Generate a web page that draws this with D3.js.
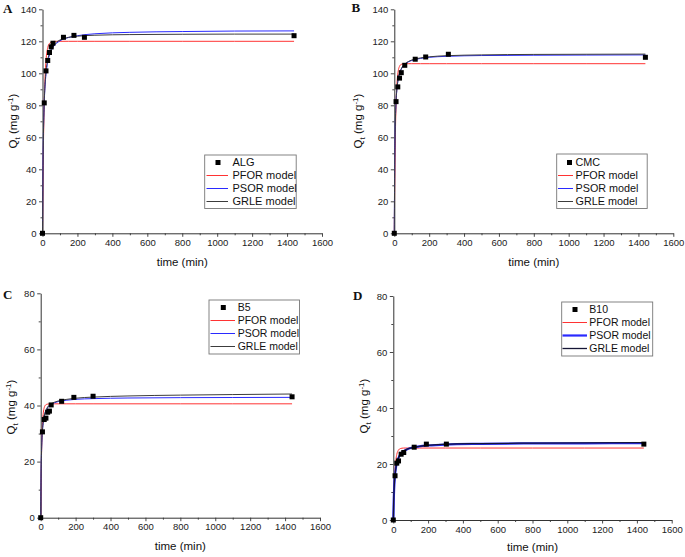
<!DOCTYPE html>
<html><head><meta charset="utf-8">
<script src="https://cdn.jsdelivr.net/npm/d3@7/dist/d3.min.js"></script>
<style>
body{margin:0;background:#fff} svg{display:block}
svg text{font-family:"Liberation Sans", Arial, Helvetica, sans-serif;}
svg text.letter{font-family:"Liberation Serif", "Times New Roman", serif;font-weight:bold;}
</style>
</head><body><svg id="c" width="685" height="557"></svg>
<script>
// ---------- data ----------
const xTicks = [0,200,400,600,800,1000,1200,1400,1600];
const yTicksAB = [0,20,40,60,80,100,120,140];
const yTicksCD = [0,20,40,60,80];
const seriesNames = ["PFOR model","PSOR model","GRLE model"];
const sampleNames = ["ALG","CMC","B5","B10"];
const panelLetters = ["A","B","C","D"];

// experimental points
const timeA = [0,10,20,30,40,50,60,120,180,240,1440];
const qtA   = [0,81.5,101.5,108,113,116.5,118.8,122.5,123.7,122.5,123.5];
const timeB = [0,10,20,30,40,60,120,180,310,1440];
const qtB   = [0,82.3,91.5,97,100.4,105,108.8,110.2,111.9,110];
const timeC = [0,10,20,30,40,50,60,120,190,300,1440];
const qtC   = [0,30.6,35,35.5,37.6,38,40.2,41.5,42.9,43.3,43.1];
const timeD = [0,10,20,30,45,60,120,190,305,1440];
const qtD   = [0,15.8,20.3,21.1,23.5,24.1,26,27.1,27.1,27.1];

// model curves (at these times)
const modelT = [0,2,5,10,15,20,30,40,60,80,100,150,200,300,500,800,1100,1440];
const pforA = [0,24.5,52,81.6,98.3,107.8,116,118.7,119.9,120,120,120,120,120,120,120,120,120];
const psorA = [0,33.5,60,81.5,92.6,99.3,107,111.4,116.2,118.7,120.3,122.4,123.5,124.7,125.6,126.1,126.4,126.5];
const grleA = [0,30,58,82,94,101,108.5,112.5,117,119.5,120.8,122.5,123.2,123.8,124.2,124.4,124.5,124.5];
const pforB = [0,25.9,53.4,79.9,93,99.5,104.4,105.6,106,106,106,106,106,106,106,106,106,106];
const psorB = [0,39.5,64.6,82,90,94.7,99.8,102.6,105.6,107.1,108,109.3,110,110.6,111.1,111.3,111.4,111.5];
const grleB = [0,38,63,82,90.5,95,100,102.8,105.8,107.3,108.3,109.6,110.3,111,111.5,111.8,111.9,112];
const pforC = [0,11.7,23.3,33.2,37.4,39.2,40.3,40.5,40.6,40.6,40.6,40.6,40.6,40.6,40.6,40.6,40.6,40.6];
const psorC = [0,14.6,24.2,31,34.1,36,38.1,39.2,40.4,41,41.4,41.9,42.2,42.45,42.67,42.8,42.85,42.9];
const grleC = [0,14,24,31,34.3,36.3,38.3,39.5,40.6,41.2,41.6,42.2,42.6,43,43.4,43.7,43.9,44.1];
const pforD = [0,5.5,11.6,18,21.5,23.4,25,25.5,25.7,25.7,25.7,25.7,25.7,25.7,25.7,25.7,25.7,25.7];
const psorD = [0,6,11.3,16,18.6,20.3,22.2,23.4,24.6,25.3,25.7,26.3,26.6,26.95,27.2,27.35,27.4,27.45];
const grleD = [0,6.2,11.5,16,18.6,20.3,22.2,23.4,24.6,25.3,25.7,26.3,26.7,27.05,27.3,27.45,27.55,27.6];

// ---------- layout ----------
const panels = [
  {letter:0, t:timeA, q:qtA, models:[pforA,psorA,grleA], yTicks:yTicksAB, ymax:140,
   L:42.5, R:322, T:9.3, B:233.3, lx:204.7, ly:155, lw:91.5, lh:53.5, lrow0:162.5, lseg:[206.5,228], lmark:218, ltext:232.5, lfont:11,
   letterPos:[3,12.5], xTitleY:266, yTitleX:17, yTitleC:121, thick:false},
  {letter:1, t:timeB, q:qtB, models:[pforB,psorB,grleB], yTicks:yTicksAB, ymax:140,
   L:394.3, R:673.3, T:9.3, B:233.3, lx:556.7, ly:154, lw:90.5, lh:54.5, lrow0:162.5, lseg:[558,573], lmark:569.5, ltext:575.5, lfont:10.8,
   letterPos:[351.5,11.5], xTitleY:266, yTitleX:362, yTitleC:121, thick:false},
  {letter:2, t:timeC, q:qtC, models:[pforC,psorC,grleC], yTicks:yTicksCD, ymax:80,
   L:40.7, R:320, T:293.3, B:517.7, lx:209, ly:300, lw:90.5, lh:54, lrow0:307.5, lseg:[210.5,235], lmark:223.3, ltext:237.7, lfont:10.5,
   letterPos:[3,298.5], xTitleY:550, yTitleX:15, yTitleC:407, thick:false},
  {letter:3, t:timeD, q:qtD, models:[pforD,psorD,grleD], yTicks:yTicksCD, ymax:80,
   L:393.3, R:671.7, T:296, B:520, lx:561.7, ly:302, lw:91, lh:54, lrow0:309.5, lseg:[562.5,587], lmark:575, ltext:589.3, lfont:10.5,
   letterPos:[353,299.5], xTitleY:551, yTitleX:368, yTitleC:406, thick:true}
];

const svg = d3.select("#c");

panels.forEach(p => {
  const g = svg.append("g");
  const x = d3.scaleLinear().domain([0,1600]).range([p.L,p.R]);
  const y = d3.scaleLinear().domain([0,p.ymax]).range([p.B,p.T]);

  // minor ticks
  const xMinor = d3.range(100,1600,200);
  const yMinor = d3.range(10,p.ymax,20);
  g.append("g").attr("transform",`translate(0,${p.B})`)
    .call(d3.axisBottom(x).tickValues(xMinor).tickSize(2).tickSizeOuter(0).tickFormat(""))
    .call(a=>a.select(".domain").remove());
  g.append("g").attr("transform",`translate(${p.L},0)`)
    .call(d3.axisLeft(y).tickValues(yMinor).tickSize(2).tickSizeOuter(0).tickFormat(""))
    .call(a=>a.select(".domain").remove());
  // major axes
  const xa = g.append("g").attr("transform",`translate(0,${p.B})`)
    .call(d3.axisBottom(x).tickValues(xTicks).tickSize(3.5).tickSizeOuter(0).tickPadding(2.5).tickFormat(d3.format("d")));
  const ya = g.append("g").attr("transform",`translate(${p.L},0)`)
    .call(d3.axisLeft(y).tickValues(p.yTicks).tickSize(3.5).tickSizeOuter(0).tickPadding(2.5).tickFormat(d3.format("d")));
  [xa,ya].forEach(a=>{
    a.selectAll("text").attr("font-size","9.5px").attr("fill","#222");
  });
  g.selectAll(".domain").attr("stroke","#333").attr("stroke-width",1);
  g.selectAll(".tick line").attr("stroke","#333").attr("stroke-width",0.9);

  // model lines
  const colors = ["#ff3333","#2a2aff", p.thick ? "#151535" : "#3c3c3c"];
  const widths = [1, p.thick ? 2.2 : 1, p.thick ? 1.3 : 1];
  const line = d3.line().x(d=>x(d[0])).y(d=>y(d[1])).curve(d3.curveMonotoneX);
  p.models.forEach((m,i)=>{
    g.append("path").datum(modelT.map((t,k)=>[t,m[k]]))
      .attr("d",line).attr("fill","none").attr("stroke",colors[i]).attr("stroke-width",widths[i]);
  });

  // points
  g.selectAll("rect.pt").data(p.t.map((t,k)=>[t,p.q[k]])).enter().append("rect")
    .attr("class","pt").attr("x",d=>x(d[0])-2.5).attr("y",d=>y(d[1])-2.5)
    .attr("width",5).attr("height",5).attr("fill","#000");

  // legend
  const lg = g.append("g");
  lg.append("rect").attr("x",p.lx).attr("y",p.ly).attr("width",p.lw).attr("height",p.lh)
    .attr("fill","#fff").attr("stroke","#777").attr("stroke-width",0.9);
  const labels = [sampleNames[p.letter]].concat(seriesNames);
  labels.forEach((lab,i)=>{
    const ry = p.lrow0 + i*13;
    if(i===0){
      lg.append("rect").attr("x",p.lmark-2.5).attr("y",ry-2.5).attr("width",5).attr("height",5).attr("fill","#000");
    } else {
      lg.append("line").attr("x1",p.lseg[0]).attr("x2",p.lseg[1]).attr("y1",ry).attr("y2",ry)
        .attr("stroke",colors[i-1]).attr("stroke-width",widths[i-1]);
    }
    lg.append("text").attr("x",p.ltext).attr("y",ry).attr("dy","0.36em")
      .attr("font-size",p.lfont+"px").attr("fill","#111").text(lab);
  });

  // axis titles
  g.append("text").attr("x",(p.L+p.R)/2).attr("y",p.xTitleY).attr("text-anchor","middle")
    .attr("font-size","11.5px").attr("fill","#111").text("time (min)");
  const yt = g.append("text").attr("transform",`translate(${p.yTitleX},${p.yTitleC}) rotate(-90)`)
    .attr("text-anchor","middle").attr("font-size","11.5px").attr("fill","#111");
  yt.append("tspan").text("Q");
  yt.append("tspan").attr("font-size","8px").attr("dy","2.5").text("t");
  yt.append("tspan").attr("dy","-2.5").text(" (mg g");
  yt.append("tspan").attr("font-size","8px").attr("dy","-4").text("-1");
  yt.append("tspan").attr("dy","4").text(")");

  // panel letter
  g.append("text").attr("class","letter").attr("x",p.letterPos[0]).attr("y",p.letterPos[1])
    .attr("font-size","13px").attr("fill","#111").text(panelLetters[p.letter]);
});
</script>
</body></html>
